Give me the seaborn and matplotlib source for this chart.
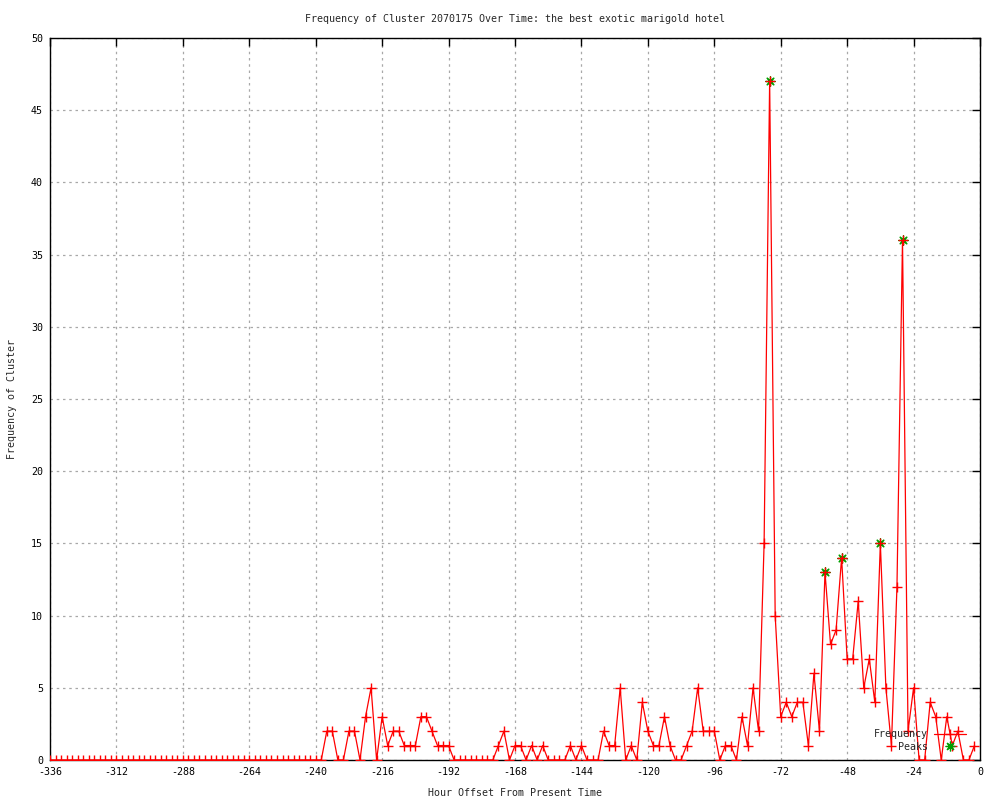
import numpy as np
import pandas as pd
import seaborn as sns
import matplotlib
matplotlib.use('Agg')
import matplotlib.pyplot as plt
from matplotlib.lines import Line2D

# hour offsets, one sample every two hours
hours = list(range(-336, 0, 2))

freq = [
    # -336 .. -240
    0, 0, 0, 0, 0, 0, 0, 0, 0, 0, 0, 0, 0, 0, 0, 0, 0, 0, 0, 0, 0, 0, 0, 0, 0,
    0, 0, 0, 0, 0, 0, 0, 0, 0, 0, 0, 0, 0, 0, 0, 0, 0, 0, 0, 0, 0, 0, 0, 0,
    # -238 .. -216
    0, 2, 2, 0, 0, 2, 2, 0, 3, 5, 0, 3,
    # -214 .. -192
    1, 2, 2, 1, 1, 1, 3, 3, 2, 1, 1, 1,
    # -190 .. -176
    0, 0, 0, 0, 0, 0, 0, 0,
    # -174 .. -144
    1, 2, 0, 1, 1, 0, 1, 0, 1, 0, 0, 0, 0, 1, 0, 1,
    # -142 .. -120
    0, 0, 0, 2, 1, 1, 5, 0, 1, 0, 4, 2,
    # -118 .. -96
    1, 1, 3, 1, 0, 0, 1, 2, 5, 2, 2, 2,
    # -94 .. -72
    0, 1, 1, 0, 3, 1, 5, 2, 15, 47, 10, 3,
    # -70 .. -48
    4, 3, 4, 4, 1, 6, 2, 13, 8, 9, 14, 7,
    # -46 .. -24
    7, 11, 5, 7, 4, 15, 5, 1, 12, 36, 2, 5,
    # -22 .. -2
    0, 0, 4, 3, 0, 3, 1, 2, 0, 0, 1,
]

peak_hours = [-76, -56, -50, -36, -28]
peak_values = [47, 13, 14, 15, 36]

x_ticks = list(range(-336, 1, 24))
y_ticks = list(range(0, 51, 5))

sns.set_style("white")
plt.rcParams['font.family'] = ['DejaVu Sans Mono']
plt.rcParams['font.size'] = 7.2
plt.rcParams['axes.unicode_minus'] = False

df = pd.DataFrame({"hour": hours, "freq": freq})
peaks = pd.DataFrame({"hour": peak_hours, "freq": peak_values})

fig = plt.figure(figsize=(10, 8), dpi=100)
ax = fig.add_axes([0.05, 0.05, 0.93, 0.9025])

star = (8, 2, 0)  # gnuplot-style asterisk
sns.scatterplot(data=peaks, x="hour", y="freq", marker=star, s=45,
                color="#00a000", linewidth=0.9, ax=ax, zorder=3)
sns.lineplot(data=df, x="hour", y="freq", color="red", linewidth=0.9,
             marker="+", markersize=7, markeredgewidth=1.0,
             markeredgecolor="red", ax=ax, zorder=4)

ax.set_xlim(-336, 0)
ax.set_ylim(0, 50)
ax.set_xticks(x_ticks)
ax.set_yticks(y_ticks)
ax.grid(True, color="#a8a8a8", linestyle=(0, (2, 3)), linewidth=0.9)
ax.tick_params(direction="in", length=6, width=1, top=True, right=True,
               labelsize=7.2, pad=5, colors="black")
for sp in ax.spines.values():
    sp.set_color("black")
    sp.set_linewidth(1)

ax.set_xlabel("Hour Offset From Present Time", fontsize=7.2, labelpad=8)
ax.set_ylabel("Frequency of Cluster", fontsize=7.2, labelpad=10)
# title centred over the plot area, like gnuplot does
ax.text(0.5, 1.027, "Frequency of Cluster 2070175 Over Time: the best exotic marigold hotel",
        transform=ax.transAxes, ha="center", va="center", fontsize=7.2)

handles = [
    Line2D([], [], color="red", linewidth=0.9, marker="+", markersize=7,
           markeredgewidth=1.0),
    Line2D([], [], color="#00a000", linestyle="none", marker=star,
           markersize=7, markeredgewidth=0.9),
]
ax.legend(handles, ["Frequency", "Peaks"], loc="lower right",
          bbox_to_anchor=(0.971, 0.054), bbox_transform=fig.transFigure,
          frameon=False, markerfirst=False, handlelength=3.2,
          handletextpad=0.6, labelspacing=0.25, borderpad=0,
          fontsize=7.2)

fig.savefig("out.png", dpi=100)
